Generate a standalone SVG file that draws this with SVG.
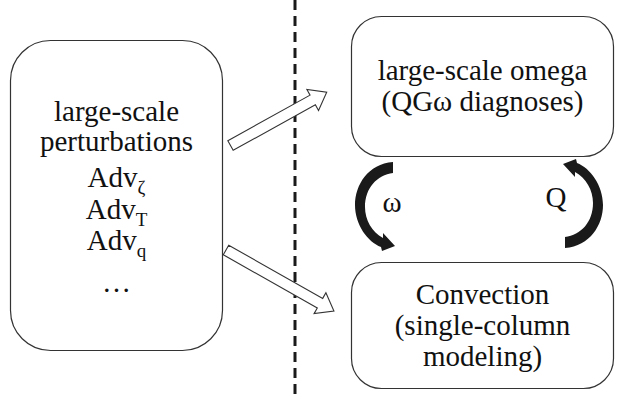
<svg xmlns="http://www.w3.org/2000/svg" width="617" height="399" viewBox="0 0 617 399">
<style>
.box{fill:#fff;stroke:#333;stroke-width:1.2}
.t{font-family:'Liberation Serif','Times New Roman',serif;font-size:29px;fill:#111;text-anchor:middle}
.sub{font-size:19px}
.blk{fill:#fff;stroke:#333;stroke-width:1.1;stroke-linejoin:miter}
.crv{fill:#1a1a1a;stroke:none}
</style>
<rect width="617" height="399" fill="#fff"/>
<g id="divider">
<line x1="295" y1="0" x2="295" y2="399" stroke="#1a1a1a" stroke-width="3" stroke-dasharray="10 6"/>
</g>
<g id="perturbations">
<rect class="box" x="10.5" y="40.5" width="212" height="310" rx="40" ry="40"/>
<text class="t" x="116.5" y="121">large-scale</text>
<text class="t" x="116.5" y="151">perturbations</text>
<text class="t" x="116.5" y="187">Adv<tspan class="sub" dy="7">ζ</tspan></text>
<text class="t" x="116.5" y="219">Adv<tspan class="sub" dy="7">T</tspan></text>
<text class="t" x="116.5" y="250">Adv<tspan class="sub" dy="7">q</tspan></text>
<text class="t" x="116.5" y="292">…</text>
</g>
<g id="omega">
<rect class="box" x="351.5" y="16.5" width="262" height="140" rx="30" ry="30"/>
<text class="t" x="482.5" y="80">large-scale omega</text>
<text class="t" x="482.5" y="111">(QGω diagnoses)</text>
</g>
<g id="convection">
<rect class="box" x="351.5" y="262.5" width="262" height="126" rx="30" ry="30"/>
<text class="t" x="482.5" y="304">Convection</text>
<text class="t" x="482.5" y="335">(single-column</text>
<text class="t" x="482.5" y="366">modeling)</text>
</g>
<g id="connectors">
<polygon class="blk" transform="translate(230.5 145.5) rotate(-29)" points="0,-5.5 94,-5.5 94,-12 110,0 94,12 94,5.5 0,5.5"/>
<polygon class="blk" transform="translate(226 250) rotate(29.5)" points="0,-5.5 108,-5.5 108,-12 124,0 108,12 108,5.5 0,5.5"/>
<path id="curveW" class="crv" d="M393 162 C368 164 355 185 355 205 C355 225 368 242 381 247 L382 251 L395 246 L383 233 L383 238 C372 232 365 220 365 207 C365 188 377 175 393 173 Z"/>
<path class="crv" transform="rotate(180 479 205)" d="M393 162 C368 164 355 185 355 205 C355 225 368 242 381 247 L382 251 L395 246 L383 233 L383 238 C372 232 365 220 365 207 C365 188 377 175 393 173 Z"/>
<text class="t" x="392" y="212">ω</text>
<text class="t" x="556" y="207">Q</text>
</g>
</svg>
